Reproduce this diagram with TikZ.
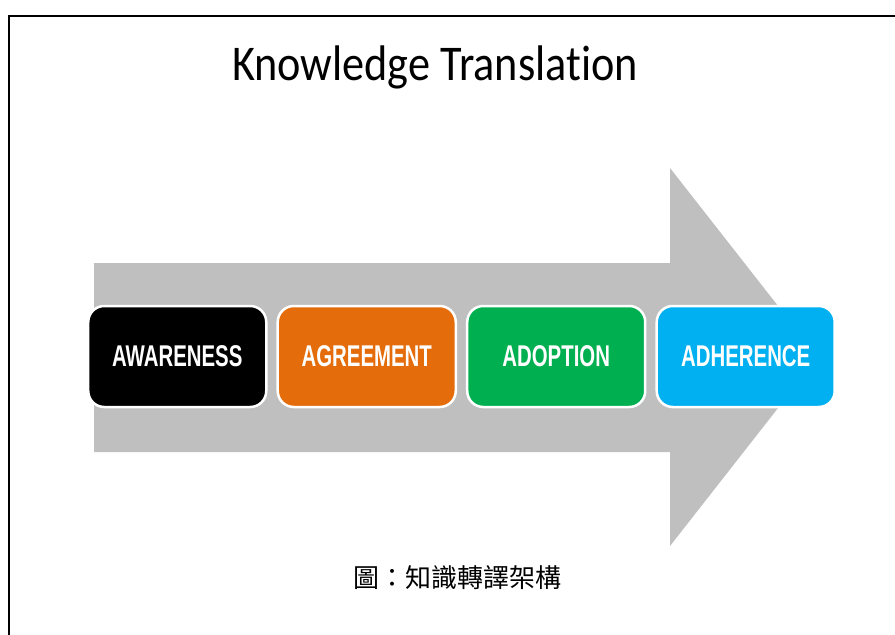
\documentclass[tikz,border=0pt]{standalone}
\usepackage{fontspec}
\setmainfont{Carlito}[Ligatures=NoCommon]
\newfontfamily\titlefont[FakeStretch=0.885,Ligatures=NoCommon]{Carlito}
\newfontfamily\stagefont[FakeStretch=0.68]{Liberation Sans}
\newfontfamily\cjkfont{Noto Sans CJK TC}
\usetikzlibrary{matrix,positioning}
\definecolor{arrowgray}{HTML}{BFBFBF}
\definecolor{kborange}{HTML}{E46C0A}
\definecolor{kbgreen}{HTML}{00B050}
\definecolor{kbblue}{HTML}{00B0F0}
\tikzset{stage/.style={rounded corners=16pt, draw=white, line width=2.5pt,
         minimum width=178pt, minimum height=101pt, text=white,
         font=\stagefont\bfseries\fontsize{30}{30}\selectfont}}

\begin{document}
\begin{tikzpicture}[x=1pt,y=-1pt]
  \useasboundingbox (0,0) rectangle (895,635);
  % page frame
  \draw[line width=2pt] (9,635) -- (9,16) -- (895,16);
  \node[font=\titlefont\fontsize{50}{56}\selectfont, anchor=base] (title) at (435,80)
    {Knowledge Translation};
  % big grey arrow behind the stages
  \fill[arrowgray] (94,263) -- (670,263) -- (670,168) -- (818,357)
    -- (670,546) -- (670,452) -- (94,452) -- cycle;
  \matrix (m) [matrix of nodes, column sep=9pt, nodes={stage}] at (461.5,356.5)
    { |[fill=black]| AWARENESS & |[fill=kborange]| AGREEMENT
      & |[fill=kbgreen]| ADOPTION & |[fill=kbblue]| ADHERENCE \\ };
  \node[font=\cjkfont\fontsize{26}{30}\selectfont] (caption) at (457,578)
    {圖：知識轉譯架構};
\end{tikzpicture}
\end{document}
